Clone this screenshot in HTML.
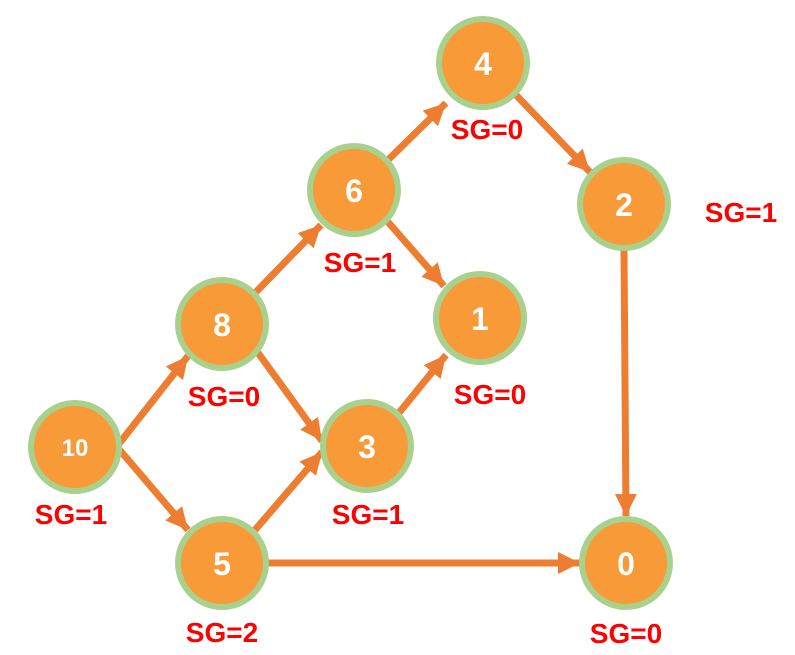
<!DOCTYPE html>
<html><head><meta charset="utf-8"><style>
html,body{margin:0;padding:0;background:#fff;}
svg{display:block;}
.n{fill:#F99A38;stroke:#A9D18E;stroke-width:6;}
.t{font-family:"Liberation Sans",sans-serif;font-weight:bold;fill:#fff;font-size:32px;text-anchor:middle;}
.s{font-family:"Liberation Sans",sans-serif;font-weight:bold;fill:#FF0000;font-size:28px;text-anchor:middle;}
.e{stroke:#ED7D31;stroke-width:7;fill:none;}
</style></head><body>
<svg width="795" height="655" viewBox="0 0 795 655">
<defs>
<marker id="a" markerUnits="userSpaceOnUse" markerWidth="24" markerHeight="22" refX="22" refY="11" orient="auto">
<path d="M0,0 L22,11 L0,22 Z" fill="#ED7D31"/>
</marker>
</defs>
<g class="e" marker-end="url(#a)">
<line x1="118" y1="445" x2="188" y2="356"/>
<line x1="118" y1="448" x2="188" y2="530"/>
<line x1="255" y1="293" x2="321" y2="225"/>
<line x1="256" y1="350" x2="322" y2="441"/>
<line x1="255" y1="530" x2="322" y2="452"/>
<line x1="388" y1="160" x2="446" y2="103"/>
<line x1="388" y1="222" x2="444" y2="286"/>
<line x1="398" y1="414" x2="446" y2="355"/>
<line x1="516" y1="95" x2="590" y2="172"/>
<line x1="624" y1="250" x2="626" y2="516"/>
<line x1="268" y1="563" x2="580" y2="563"/>
</g>
<circle class="n" cx="483" cy="63" r="44"/>
<circle class="n" cx="624" cy="204" r="44"/>
<circle class="n" cx="354" cy="190" r="44"/>
<circle class="n" cx="480" cy="318" r="44"/>
<circle class="n" cx="222" cy="324" r="44"/>
<circle class="n" cx="367" cy="446" r="44"/>
<circle class="n" cx="75" cy="447" r="44"/>
<circle class="n" cx="222" cy="563" r="44"/>
<circle class="n" cx="626" cy="563" r="44"/>
<text class="t" x="483" y="75">4</text>
<text class="t" x="624" y="216">2</text>
<text class="t" x="354" y="202">6</text>
<text class="t" x="480" y="330">1</text>
<text class="t" x="222" y="336">8</text>
<text class="t" x="367" y="458">3</text>
<text class="t" x="75" y="456" style="font-size:24px">10</text>
<text class="t" x="222" y="575">5</text>
<text class="t" x="626" y="575">0</text>
<text class="s" x="487" y="139">SG=0</text>
<text class="s" x="741" y="222">SG=1</text>
<text class="s" x="360" y="272">SG=1</text>
<text class="s" x="224" y="406">SG=0</text>
<text class="s" x="490" y="404">SG=0</text>
<text class="s" x="71" y="524">SG=1</text>
<text class="s" x="368" y="524">SG=1</text>
<text class="s" x="222" y="642">SG=2</text>
<text class="s" x="626" y="643">SG=0</text>
</svg>
</body></html>
